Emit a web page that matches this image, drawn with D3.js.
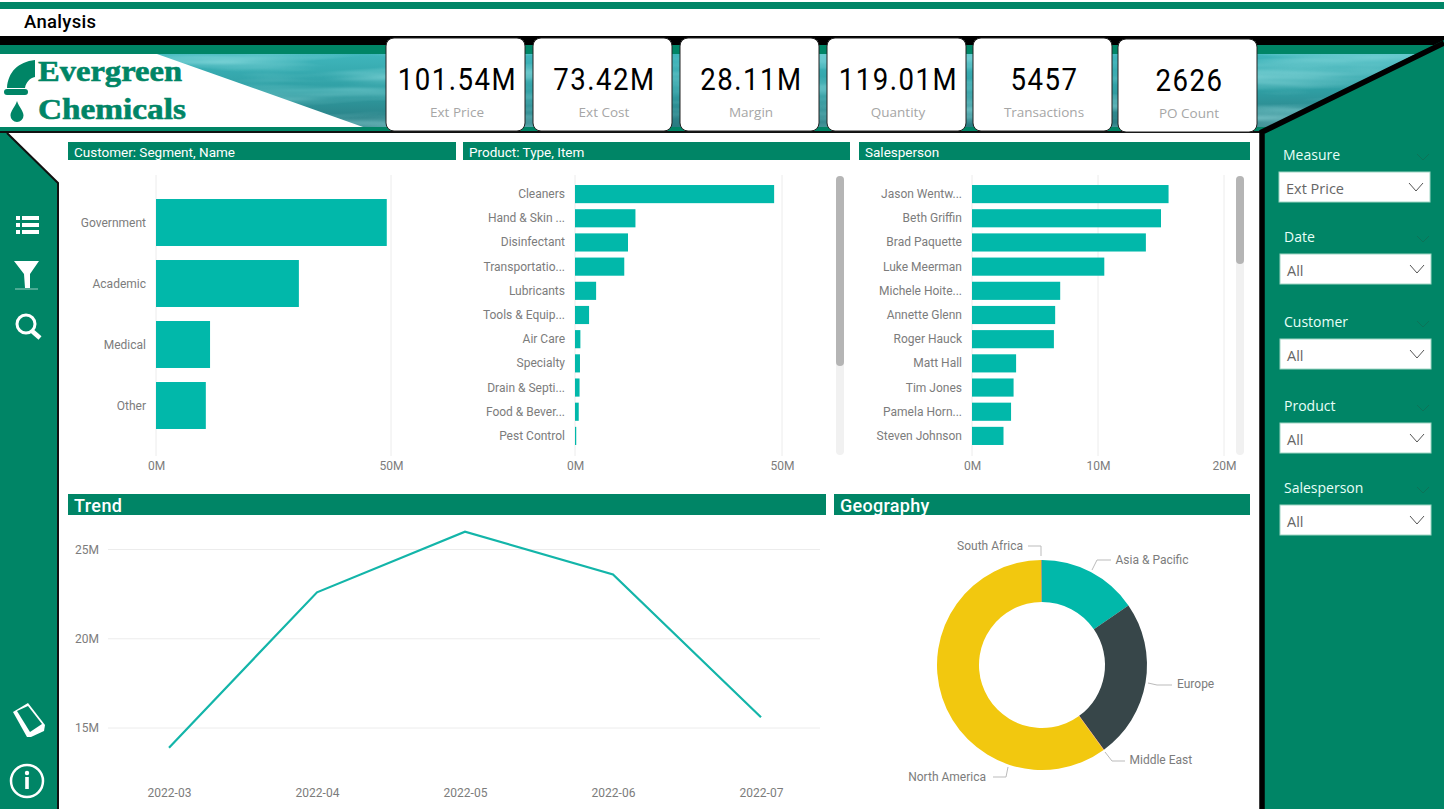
<!DOCTYPE html>
<html>
<head>
<meta charset="utf-8">
<script src="https://cdn.jsdelivr.net/npm/d3@7"></script>
<style>
  html, body { margin: 0; padding: 0; background: #fff; overflow: hidden; }
  text { font-family: Roboto, "Noto Sans", sans-serif; }
</style>
</head>
<body>
<svg id="page" width="1444" height="809"></svg>
<script>
// data, millions unless noted
var kpiLabels = ["Ext Price", "Ext Cost", "Margin", "Quantity", "Transactions", "PO Count"];
var kpiValues = ["101.54M", "73.42M", "28.11M", "119.01M", "5457", "2626"];

var segments = ["Government", "Academic", "Medical", "Other"];
var segmentValues = [49.1, 30.4, 11.5, 10.6];

var productTypes = ["Cleaners", "Hand & Skin ...", "Disinfectant", "Transportatio...", "Lubricants", "Tools & Equip...", "Air Care", "Specialty", "Drain & Septi...", "Food & Bever...", "Pest Control"];
var productValues = [48.1, 14.6, 12.8, 11.9, 5.1, 3.4, 1.3, 1.2, 1.1, 0.9, 0.3];

var salespeople = ["Jason Wentw...", "Beth Griffin", "Brad Paquette", "Luke Meerman", "Michele Hoite...", "Annette Glenn", "Roger Hauck", "Matt Hall", "Tim Jones", "Pamela Horn...", "Steven Johnson"];
var salesValues = [15.6, 15.0, 13.8, 10.5, 7.0, 6.6, 6.5, 3.5, 3.3, 3.1, 2.5];

var months = ["2022-03", "2022-04", "2022-05", "2022-06", "2022-07"];
var monthValues = [13.9, 22.6, 26.0, 23.6, 15.6];

var regions = ["Asia & Pacific", "Europe", "Middle East", "North America", "South Africa"];
var regionValues = [15.6, 24.9, 0.06, 60.7, 0.1];
var regionColors = ["#01B8AA", "#374649", "#FD625E", "#F2C80F", "#5F6B6D"];

var slicerNames = ["Measure", "Date", "Customer", "Product", "Salesperson"];
var slicerValues = ["Ext Price", "All", "All", "All", "All"];

var green = "#008566", barColor = "#01B8AA", axisGrey = "#7c7c7c", gridGrey = "#ececec";

var svg = d3.select("#page");
var defs = svg.append("defs");

// water texture behind the banner
var waterGrad = defs.append("linearGradient").attr("id", "waterShade")
    .attr("x1", 0).attr("y1", 0).attr("x2", 0).attr("y2", 1);
waterGrad.append("stop").attr("offset", 0).attr("stop-color", "#3fb6bc");
waterGrad.append("stop").attr("offset", 0.5).attr("stop-color", "#2f9ea3");
waterGrad.append("stop").attr("offset", 1).attr("stop-color", "#2a7a80");
var waterNoise = defs.append("filter").attr("id", "waterNoise")
    .attr("x", 0).attr("y", 0).attr("width", "100%").attr("height", "100%");
waterNoise.append("feTurbulence").attr("type", "fractalNoise")
    .attr("baseFrequency", "0.005 0.06").attr("numOctaves", 3).attr("seed", 4);
waterNoise.append("feColorMatrix").attr("type", "matrix")
    .attr("values", "0 0 0 0 0.36  0 0 0 0 0.8  0 0 0 0 0.82  1.2 0 0 0 -0.45");

// page frame
svg.append("rect").attr("width", 1444).attr("height", 809).attr("fill", "#fff");
svg.append("rect").attr("y", 2).attr("width", 1444).attr("height", 7).attr("fill", green);
svg.append("text").attr("x", 24).attr("y", 28).attr("font-size", 18.5).attr("font-weight", 500)
    .attr("letter-spacing", 0.3).attr("fill", "#000").text("Analysis");
svg.append("rect").attr("y", 36).attr("width", 1444).attr("height", 9).attr("fill", "#000");
svg.append("rect").attr("y", 45).attr("width", 1444).attr("height", 86).attr("fill", green);

// banner
svg.append("rect").attr("y", 54).attr("width", 1444).attr("height", 73).attr("fill", "url(#waterShade)");
svg.append("rect").attr("y", 54).attr("width", 1444).attr("height", 73).attr("filter", "url(#waterNoise)");
svg.append("path").attr("d", "M0,54H157L363,127H0Z").attr("fill", "#fff");
svg.append("rect").attr("y", 127).attr("width", 1444).attr("height", 4).attr("fill", green);
svg.append("rect").attr("y", 131).attr("width", 1444).attr("height", 2).attr("fill", "#111");

// logo
var logo = svg.append("g").attr("fill", green);
logo.append("path").attr("d", "M7,88C8,72 18,62 35,60V77C30,78 26,82 25,88Z");
logo.append("rect").attr("x", 4).attr("y", 89).attr("width", 24).attr("height", 6).attr("rx", 3);
logo.append("path").attr("d", "M17,101C19,107 23.5,111 23.5,115.5A6.5,6.5 0 0 1 10.5,115.5C10.5,111 15,107 17,101Z");
logo.append("text").attr("x", 38).attr("y", 81).attr("textLength", 144)
    .attr("lengthAdjust", "spacingAndGlyphs").attr("font-size", 30).attr("font-weight", 700)
    .attr("stroke", green).attr("stroke-width", 0.6)
    .style("font-family", "'Liberation Serif', serif").text("Evergreen");
logo.append("text").attr("x", 38).attr("y", 119).attr("textLength", 148)
    .attr("lengthAdjust", "spacingAndGlyphs").attr("font-size", 30).attr("font-weight", 700)
    .attr("stroke", green).attr("stroke-width", 0.6)
    .style("font-family", "'Liberation Serif', serif").text("Chemicals");

// kpi cards
var kpiX = [386, 533, 680, 827, 973, 1118];
var kpiY = [38, 38, 38, 38, 38, 39];
var kpi = svg.selectAll(".kpi").data(kpiLabels).enter().append("g").attr("class", "kpi")
    .attr("transform", function (d, i) { return "translate(" + kpiX[i] + "," + kpiY[i] + ")"; });
kpi.append("rect").attr("width", 139).attr("height", 93).attr("rx", 8)
    .attr("fill", "#fff").attr("stroke", "#222").attr("stroke-width", 1);
kpi.append("text").attr("transform", "translate(71.5,52) scale(0.89,1)").attr("text-anchor", "middle")
    .attr("font-size", 31).attr("letter-spacing", 1.7).attr("fill", "#000")
    .text(function (d, i) { return kpiValues[i]; });
kpi.append("text").attr("x", 71).attr("y", 79).attr("text-anchor", "middle")
    .attr("font-size", 13.5).attr("fill", "#a6a6a6")
    .style("font-family", "'Open Sans', sans-serif")
    .text(function (d) { return d; });

// left nav panel
svg.append("path").attr("d", "M0,133H7L58,183V809H0Z").attr("fill", green);
svg.append("path").attr("d", "M7,133L58,183V809").attr("fill", "none").attr("stroke", "#111").attr("stroke-width", 2);

// right panel
svg.append("path").attr("d", "M1444,40V809H1262V131Z").attr("fill", green);
svg.append("path").attr("d", "M1444,43L1262,132V809").attr("fill", "none").attr("stroke", "#000").attr("stroke-width", 5.5);

// nav icons
var icons = svg.append("g").attr("fill", "#fff");
[218, 225, 232].forEach(function (y) {
    icons.append("rect").attr("x", 16).attr("y", y - 2).attr("width", 4).attr("height", 4);
    icons.append("rect").attr("x", 22).attr("y", y - 2).attr("width", 17).attr("height", 4);
});
icons.append("path").attr("d", "M14,261H39L30,274V288H25L24,274Z");
icons.append("path").attr("d", "M15,289H38").attr("stroke", "#d8efe8").attr("stroke-width", 0.7);
icons.append("circle").attr("cx", 26).attr("cy", 324).attr("r", 9).attr("fill", "none").attr("stroke", "#fff").attr("stroke-width", 3);
icons.append("path").attr("d", "M32,331L40,338").attr("stroke", "#fff").attr("stroke-width", 4.5);
icons.append("path").attr("d", "M13,712L28,703L45,725L44,731L31,737L27,737Z");
icons.append("path").attr("d", "M17,711L28,706L42,724L30,732Z").attr("fill", green);
icons.append("circle").attr("cx", 27).attr("cy", 781).attr("r", 16).attr("fill", "none").attr("stroke", "#fff").attr("stroke-width", 2.5);
icons.append("circle").attr("cx", 27).attr("cy", 773).attr("r", 2.2);
icons.append("rect").attr("x", 25.2).attr("y", 777).attr("width", 3.6).attr("height", 12);

// section headers
function header(x, y, w, h, label, size, weight, spacing) {
    svg.append("rect").attr("x", x).attr("y", y).attr("width", w).attr("height", h).attr("fill", green);
    svg.append("text").attr("x", x + 6).attr("y", y + h / 2 + size * 0.36 + 1)
        .attr("font-size", size).attr("font-weight", weight).attr("letter-spacing", spacing)
        .attr("fill", "#fff").text(label);
}
header(68, 142, 388, 18, "Customer: Segment, Name", 13.5, 400, 0);
header(463, 142, 387, 18, "Product: Type, Item", 13.5, 400, 0);
header(859, 142, 391, 18, "Salesperson", 13.5, 400, 0);
header(68, 494, 758, 21, "Trend", 18, 500, 0.4);
header(834, 494, 416, 21, "Geography", 18, 500, 0.3);

// horizontal bars, each chart on its own scales
function barChart(o) {
    var x = d3.scaleLinear().domain([0, o.max]).range([o.x0, o.x1]);
    var y = d3.scaleBand().domain(o.cats).range([o.top, o.bottom])
        .paddingInner(o.pad).paddingOuter(o.pad / 2);
    var g = svg.append("g");
    var ax = d3.axisBottom(x).tickValues(o.ticks).tickSize(0)
        .tickFormat(function (d) { return d + "M"; });
    var axisG = g.append("g").attr("transform", "translate(0,455)").call(ax);
    axisG.select(".domain").remove();
    axisG.selectAll("text").attr("dy", 0).attr("y", 15).attr("font-size", 12).attr("fill", axisGrey)
        .style("font-family", "Roboto, sans-serif");
    g.selectAll(".grid").data(o.ticks).enter().append("line")
        .attr("x1", x).attr("x2", x).attr("y1", 175).attr("y2", 456)
        .attr("stroke", gridGrey);
    g.selectAll(".bar").data(o.vals).enter().append("rect")
        .attr("x", x(0)).attr("y", function (d, i) { return y(o.cats[i]); })
        .attr("width", function (d) { return x(d) - x(0); })
        .attr("height", y.bandwidth()).attr("fill", barColor);
    var ay = d3.axisLeft(y).tickSize(0).tickPadding(o.labelGap);
    var axisY = g.append("g").attr("transform", "translate(" + o.x0 + "," + o.labelShift + ")").call(ay);
    axisY.select(".domain").remove();
    axisY.selectAll("text").attr("font-size", 12).attr("fill", axisGrey)
        .style("font-family", "Roboto, sans-serif");
}
barChart({ cats: segments, vals: segmentValues, max: 50, ticks: [0, 50], x0: 156, x1: 391, top: 192, bottom: 436, pad: 0.23, labelGap: 10, labelShift: 1 });
barChart({ cats: productTypes, vals: productValues, max: 50, ticks: [0, 50], x0: 575, x1: 782, top: 182, bottom: 448, pad: 0.25, labelGap: 10, labelShift: 0.2 });
barChart({ cats: salespeople, vals: salesValues, max: 20, ticks: [0, 10, 20], x0: 972, x1: 1224, top: 182, bottom: 448, pad: 0.25, labelGap: 10, labelShift: 0.2 });

// scrollbars
function scrollbar(x, thumbEnd) {
    svg.append("rect").attr("x", x).attr("y", 176).attr("width", 8).attr("height", 279).attr("rx", 4).attr("fill", "#f1f1f1");
    svg.append("rect").attr("x", x).attr("y", 176).attr("width", 8).attr("height", thumbEnd - 176).attr("rx", 4).attr("fill", "#b5b5b5");
}
scrollbar(836, 366);
scrollbar(1236, 264);

// trend line
var xT = d3.scalePoint().domain(months).range([169, 761]);
var yT = d3.scaleLinear().domain([15, 25]).range([728, 549.5]);
var trend = svg.append("g");
trend.selectAll(".grid").data([15, 20, 25]).enter().append("line")
    .attr("x1", 108).attr("x2", 820)
    .attr("y1", yT).attr("y2", yT).attr("stroke", gridGrey);
var axT = trend.append("g").attr("transform", "translate(0,780)").call(d3.axisBottom(xT).tickSize(0));
axT.select(".domain").remove();
axT.selectAll("text").attr("dy", 0).attr("y", 17).attr("font-size", 12).attr("fill", axisGrey)
    .style("font-family", "Roboto, sans-serif");
var ayT = trend.append("g").attr("transform", "translate(102,0)")
    .call(d3.axisLeft(yT).tickValues([15, 20, 25]).tickSize(0).tickFormat(function (d) { return d + "M"; }));
ayT.select(".domain").remove();
ayT.selectAll("text").attr("font-size", 12).attr("fill", axisGrey)
    .style("font-family", "Roboto, sans-serif");
trend.append("path").datum(monthValues)
    .attr("fill", "none").attr("stroke", "#13b5a9").attr("stroke-width", 2.2)
    .attr("d", d3.line().x(function (d, i) { return xT(months[i]); }).y(function (d) { return yT(d); }));

// donut
var pie = d3.pie().sort(null)(regionValues);
var arc = d3.arc().innerRadius(63).outerRadius(105);
var donut = svg.append("g").attr("transform", "translate(1042,665)");
donut.selectAll(".slice").data(pie).enter().append("path")
    .attr("d", arc).attr("fill", function (d, i) { return regionColors[i]; });

// leader lines and labels, relative to the donut centre
var labelPts = [
    { name: 0, line: [[50, -95], [55, -105], [69, -105]], tx: 73.5, ty: -105, a: "start" },
    { name: 1, line: [[106, 18], [115, 20], [130, 20]], tx: 135, ty: 19, a: "start" },
    { name: 2, line: [[63, 87], [70, 96], [83, 96]], tx: 87.5, ty: 95, a: "start" },
    { name: 3, line: [[-34, 102], [-36, 112], [-49, 112]], tx: -56, ty: 112, a: "end" },
    { name: 4, line: [[-1, -109], [-1, -119], [-14, -119]], tx: -19, ty: -119, a: "end" }
];
labelPts.forEach(function (p) {
    donut.append("path").attr("d", d3.line()(p.line)).attr("fill", "none").attr("stroke", "#bbb");
    donut.append("text").attr("x", p.tx).attr("y", p.ty + 4).attr("text-anchor", p.a)
        .attr("font-size", 12).attr("fill", axisGrey).text(regions[p.name]);
});

// slicers on the right
var slicerY = [172, 254, 339, 423, 505];
var slicerTitleY = [160, 242, 327, 411, 493];
slicerNames.forEach(function (name, i) {
    var x0 = i === 0 ? 1279 : 1280;
    svg.append("text").attr("x", x0 + 4).attr("y", slicerTitleY[i]).attr("font-size", 14)
        .attr("fill", "#e8fff8").style("font-family", "'Open Sans', sans-serif").text(name);
    svg.append("path").attr("d", d3.line()([[1417, slicerTitleY[i] - 6], [1423, slicerTitleY[i]], [1429, slicerTitleY[i] - 6]]))
        .attr("fill", "none").attr("stroke", "#0b7358");
    svg.append("rect").attr("x", x0).attr("y", slicerY[i]).attr("width", 151).attr("height", 30)
        .attr("fill", "#fff").attr("stroke", "#9fd6c4");
    svg.append("text").attr("x", x0 + 7).attr("y", slicerY[i] + 21.5).attr("font-size", 14.5)
        .attr("fill", "#666").style("font-family", "'Open Sans', sans-serif").text(slicerValues[i]);
    svg.append("path").attr("d", d3.line()([[x0 + 130, slicerY[i] + 11], [x0 + 137, slicerY[i] + 19], [x0 + 144, slicerY[i] + 11]]))
        .attr("fill", "none").attr("stroke", "#555");
});
</script>
</body>
</html>
